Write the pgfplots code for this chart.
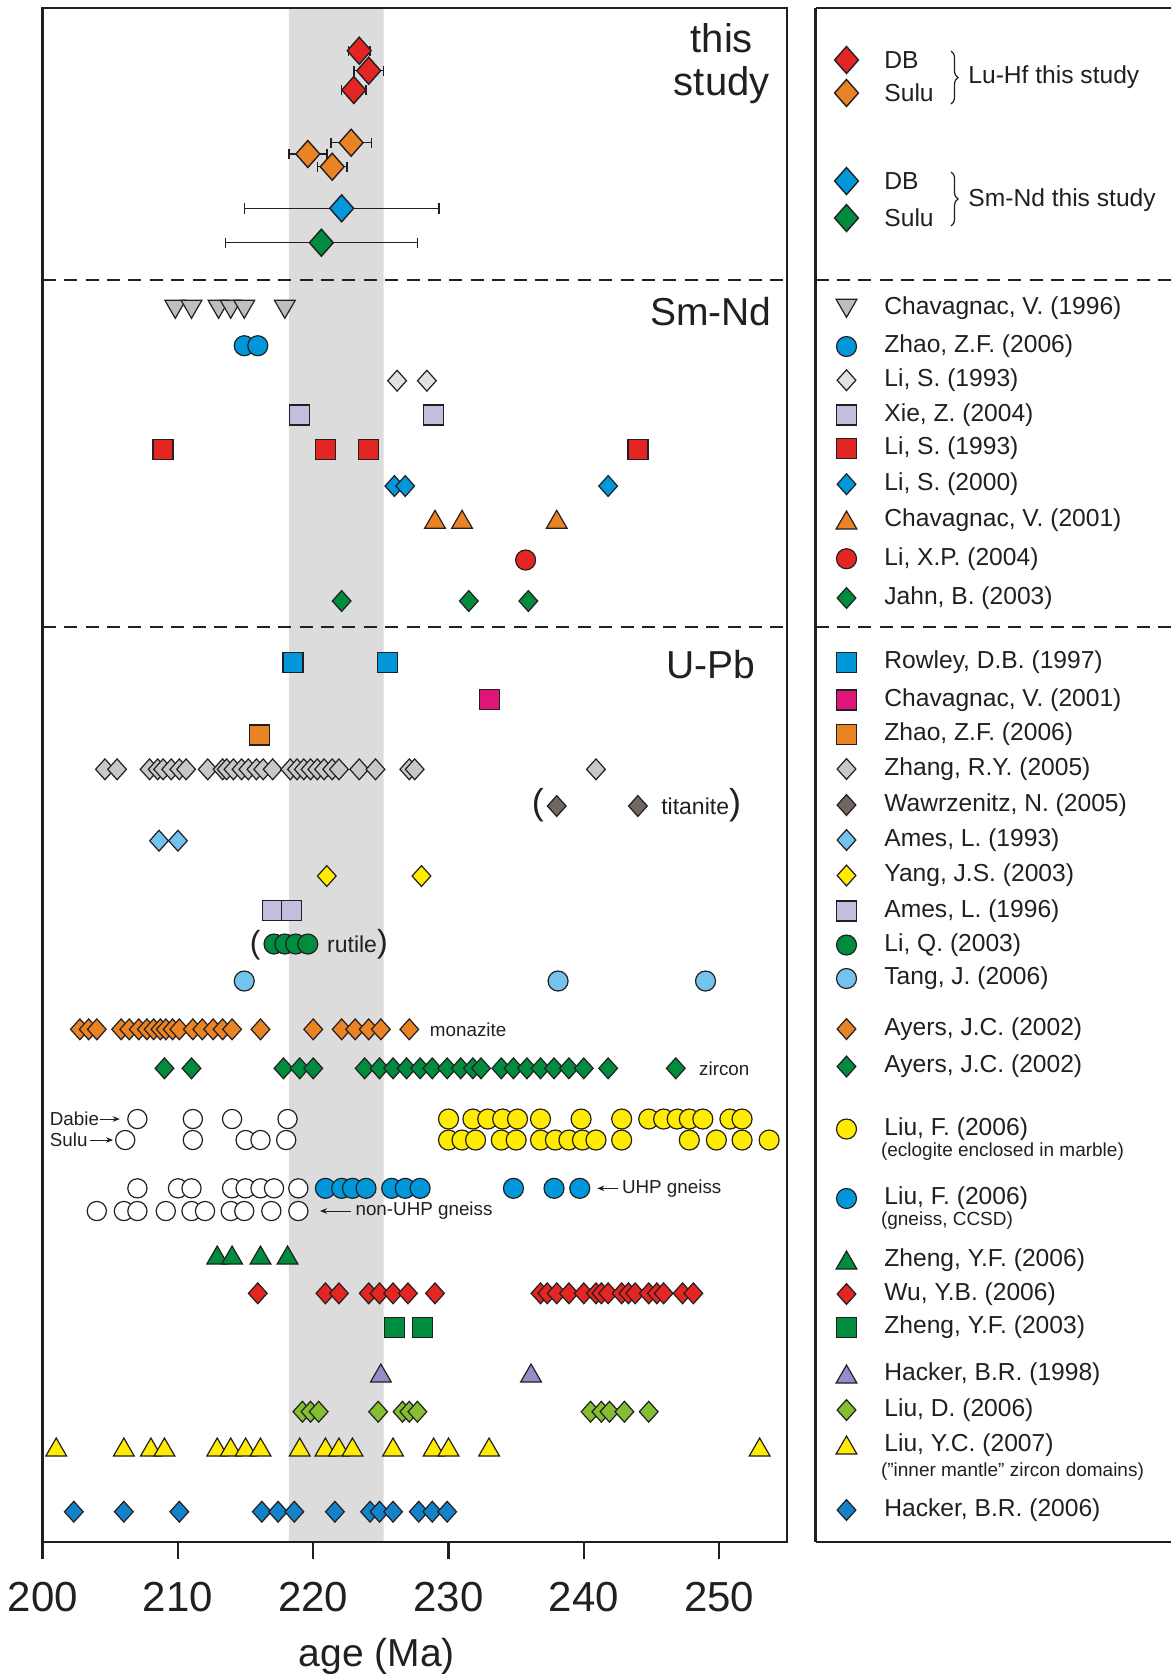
\documentclass[border=0pt]{standalone}
\usepackage{fontspec}
\setmainfont{Liberation Sans}
\usepackage{pgfplots}
\pgfplotsset{compat=1.18}
\usetikzlibrary{arrows.meta,decorations.pathreplacing}
\definecolor{outl}{RGB}{35,31,32}
\definecolor{band}{RGB}{220,220,220}
\definecolor{cRed}{RGB}{227,38,35}
\definecolor{cOrange}{RGB}{234,131,36}
\definecolor{cBlue}{RGB}{0,152,218}
\definecolor{cGreen}{RGB}{0,140,62}
\definecolor{cGrayTri}{RGB}{190,190,190}
\definecolor{cLtGray}{RGB}{226,226,226}
\definecolor{cZhang}{RGB}{200,200,200}
\definecolor{cLav}{RGB}{195,190,222}
\definecolor{cMag}{RGB}{222,22,122}
\definecolor{cBrown}{RGB}{112,102,98}
\definecolor{cLtBlue}{RGB}{115,195,238}
\definecolor{cYellow}{RGB}{255,236,0}
\definecolor{cPurple}{RGB}{152,140,200}
\definecolor{cLtGreen}{RGB}{132,190,50}
\definecolor{cHacker}{RGB}{20,130,200}
\newcommand{\fs}[1]{\fontsize{#1}{#1}\selectfont}
\pgfplotsset{
 dm/.style={only marks, mark=diamond*, mark size=5.2pt, mark options={xscale=1.2, fill=#1, draw=outl, line width=0.6pt}},
 bdm/.style={only marks, mark=diamond*, mark size=6.75pt, mark options={xscale=1.18, fill=#1, draw=outl, line width=0.7pt}},
 sq/.style={only marks, mark=square*, mark size=5pt, mark options={fill=#1, draw=outl, line width=0.6pt}},
 ci/.style={only marks, mark=*, mark size=5pt, mark options={fill=#1, draw=outl, line width=0.6pt}},
 oci/.style={only marks, mark=*, mark size=4.8pt, mark options={fill=white, draw=outl, line width=0.6pt}},
 tr/.style={only marks, mark=triangle*, mark size=6pt, mark options={fill=#1, draw=outl, line width=0.6pt}},
 itr/.style={only marks, mark=triangle*, mark size=6pt, mark options={rotate=180, fill=#1, draw=outl, line width=0.6pt}},
 dline/.style={draw=outl, line width=0.9pt, dash pattern=on 6.5pt off 4.2pt, forget plot},
}
\tikzset{txt/.style={inner sep=0pt, text=outl}}
\begin{document}
\begin{tikzpicture}
\useasboundingbox (0,0) rectangle (585.5pt,-837pt);
% ---------------- main axis ----------------
\begin{axis}[
  at={(21.35pt,-4pt)}, anchor=north west,
  scale only axis, width=372pt, height=767pt,
  xmin=200, xmax=255, ymin=8, ymax=1542, y dir=reverse,
  xtick={200,210,220,230,240,250}, ytick=\empty, xtick pos=left,
  tick align=outside, major tick length=8.5pt,
  xtick style={line width=1.2pt, outl},
  axis line style={line width=1.2pt, outl},
  xticklabel style={font=\fs{21}, anchor=base, inner sep=0pt, yshift=-26pt, text=outl},
  /pgf/number format/assume math mode=true,
  xlabel={age (Ma)},
  xlabel style={at={(axis cs:224.7,1666)}, anchor=base, inner sep=0pt, font=\fs{19.5}, text=outl},
  clip=false, axis on top,
]
\addplot[fill=band, draw=none, forget plot] coordinates {(218.2,8) (225.2,8) (225.2,1542) (218.2,1542) (218.2,8)};
\addplot[dline] coordinates {(200,279.7) (255,279.7)};
\addplot[dline] coordinates {(200,626.6) (255,626.6)};
% ---- this study ----
\addplot[draw=none, forget plot, error bars/.cd, x dir=both, x explicit,
  error bar style={draw=outl, line width=0.75pt, solid},
  error mark options={rotate=90, draw=outl, line width=0.75pt, mark size=2.6pt, solid}]
 coordinates {(223.4,50.7) +- (0.8,0) (224.1,70.7) +- (1.1,0) (223.0,90) +- (0.9,0)
  (222.8,142.7) +- (1.5,0) (219.6,154) +- (1.4,0) (221.4,166.7) +- (1.1,0)
  (222.1,208.3) +- (7.2,0) (220.6,242.7) +- (7.1,0)};
\addplot[bdm=cRed] coordinates {(223.4,50.7) (224.1,70.7) (223.0,90)};
\addplot[bdm=cOrange] coordinates {(222.8,142.7) (219.6,154) (221.4,166.7)};
\addplot[bdm=cBlue] coordinates {(222.1,208.3)};
\addplot[bdm=cGreen] coordinates {(220.6,242.7)};
% ---- Sm-Nd ----
\addplot[itr=cGrayTri] coordinates {(209.8,306.3) (211.0,306.3) (213.0,306.3) (213.9,306.3) (214.9,306.3) (217.9,306.3)};
\addplot[ci=cBlue] coordinates {(214.9,345.7) (215.9,345.7)};
\addplot[dm=cLtGray] coordinates {(226.2,380.7) (228.4,380.7)};
\addplot[sq=cLav] coordinates {(219.0,415) (228.9,415)};
\addplot[sq=cRed] coordinates {(208.9,449.3) (220.9,449.3) (224.1,449.3) (244.0,449.3)};
\addplot[dm=cBlue] coordinates {(226.0,486) (226.8,486) (241.8,486)};
\addplot[tr=cOrange] coordinates {(229.0,522.3) (231.0,522.3) (238.0,522.3)};
\addplot[ci=cRed] coordinates {(235.7,560)};
\addplot[dm=cGreen] coordinates {(222.1,601) (231.5,601) (235.9,601)};
% ---- U-Pb ----
\addplot[sq=cBlue] coordinates {(218.5,662.7) (225.5,662.7)};
\addplot[sq=cMag] coordinates {(233.0,699.3)};
\addplot[sq=cOrange] coordinates {(216.0,735)};
\addplot[dm=cZhang] coordinates {(204.6,769.3) (205.5,769.3) (207.9,769.3) (208.5,769.3) (208.9,769.3) (209.5,769.3) (210.1,769.3) (210.6,769.3) (212.2,769.3) (213.3,769.3) (213.6,769.3) (214.1,769.3) (214.7,769.3) (215.2,769.3) (215.8,769.3) (216.3,769.3) (217.0,769.3) (218.3,769.3) (218.8,769.3) (219.3,769.3) (219.8,769.3) (220.3,769.3) (220.8,769.3) (221.4,769.3) (221.9,769.3) (223.4,769.3) (224.6,769.3) (227.1,769.3) (227.5,769.3) (240.9,769.3)};
\addplot[dm=cBrown] coordinates {(238.0,806) (244.0,806)};
\addplot[dm=cLtBlue] coordinates {(208.6,840.7) (210.0,840.7)};
\addplot[dm=cYellow] coordinates {(221.0,876) (228.0,876)};
\addplot[sq=cLav] coordinates {(217.0,910.7) (218.4,910.7)};
\addplot[ci=cGreen] coordinates {(217.1,944) (217.9,944) (218.7,944) (219.6,944)};
\addplot[ci=cLtBlue] coordinates {(214.9,981) (238.1,981) (249.0,981)};
\addplot[dm=cOrange] coordinates {(202.75,1029.3) (203.4,1029.3) (204.0,1029.3) (205.8,1029.3) (206.4,1029.3) (207.1,1029.3) (207.7,1029.3) (208.2,1029.3) (208.7,1029.3) (209.1,1029.3) (209.6,1029.3) (210.1,1029.3) (211.1,1029.3) (211.8,1029.3) (212.6,1029.3) (213.3,1029.3) (214.0,1029.3) (216.1,1029.3) (220.0,1029.3) (222.1,1029.3) (223.1,1029.3) (224.1,1029.3) (225.0,1029.3) (227.1,1029.3)};
\addplot[dm=cGreen] coordinates {(209.0,1068.3) (211.0,1068.3) (217.8,1068.3) (219.0,1068.3) (220.0,1068.3) (223.8,1068.3) (224.9,1068.3) (225.9,1068.3) (226.9,1068.3) (227.9,1068.3) (228.8,1068.3) (229.9,1068.3) (230.9,1068.3) (231.8,1068.3) (232.4,1068.3) (233.9,1068.3) (234.8,1068.3) (235.8,1068.3) (236.8,1068.3) (237.8,1068.3) (238.9,1068.3) (240.0,1068.3) (241.8,1068.3) (246.8,1068.3)};
\addplot[oci] coordinates {(207.0,1119) (211.1,1119) (214.0,1119) (218.1,1119)};
\addplot[oci] coordinates {(206.1,1140) (211.1,1140) (215.0,1140) (216.1,1140) (218.0,1140)};
\addplot[ci=cYellow] coordinates {(230.0,1119) (231.8,1119) (232.9,1119) (234.0,1119) (235.1,1119) (236.8,1119) (239.8,1119) (242.8,1119) (244.8,1119) (245.9,1119) (246.9,1119) (247.8,1119) (248.8,1119) (250.8,1119) (251.7,1119)};
\addplot[ci=cYellow] coordinates {(230.0,1140) (231.0,1140) (232.0,1140) (233.9,1140) (235.0,1140) (236.8,1140) (237.9,1140) (238.9,1140) (239.9,1140) (240.9,1140) (242.8,1140) (247.8,1140) (249.8,1140) (251.7,1140) (253.7,1140)};
\addplot[oci] coordinates {(207.0,1188.3) (210.0,1188.3) (211.0,1188.3) (214.0,1188.3) (215.0,1188.3) (216.1,1188.3) (217.1,1188.3) (218.9,1188.3)};
\addplot[ci=cBlue] coordinates {(220.9,1188.3) (222.1,1188.3) (222.9,1188.3) (223.9,1188.3) (225.8,1188.3) (226.8,1188.3) (227.9,1188.3) (234.8,1188.3) (237.8,1188.3) (239.7,1188.3)};
\addplot[oci] coordinates {(204.0,1211) (206.0,1211) (207.0,1211) (209.1,1211) (211.0,1211) (212.0,1211) (213.9,1211) (214.9,1211) (216.9,1211) (218.9,1211)};
\addplot[tr=cGreen] coordinates {(212.9,1258) (214.0,1258) (216.1,1258) (218.1,1258)};
\addplot[dm=cRed] coordinates {(215.9,1293.3) (220.9,1293.3) (221.9,1293.3) (224.1,1293.3) (224.9,1293.3) (225.9,1293.3) (227.0,1293.3) (229.0,1293.3) (236.8,1293.3) (237.3,1293.3) (238.0,1293.3) (238.9,1293.3) (240.0,1293.3) (240.9,1293.3) (241.3,1293.3) (241.8,1293.3) (242.8,1293.3) (243.3,1293.3) (243.8,1293.3) (244.8,1293.3) (245.4,1293.3) (245.9,1293.3) (247.3,1293.3) (248.1,1293.3)};
\addplot[sq=cGreen] coordinates {(226.0,1327.3) (228.1,1327.3)};
\addplot[tr=cPurple] coordinates {(225.0,1376) (236.1,1376)};
\addplot[dm=cLtGreen] coordinates {(219.2,1411.7) (219.8,1411.7) (220.4,1411.7) (224.8,1411.7) (226.6,1411.7) (227.1,1411.7) (227.7,1411.7) (240.5,1411.7) (241.3,1411.7) (241.9,1411.7) (243.0,1411.7) (244.8,1411.7)};
\addplot[tr=cYellow] coordinates {(201.0,1450) (206.0,1450) (208.0,1450) (209.0,1450) (212.9,1450) (213.9,1450) (215.0,1450) (216.1,1450) (219.0,1450) (220.9,1450) (221.9,1450) (222.9,1450) (225.9,1450) (228.9,1450) (230.0,1450) (233.0,1450) (253.0,1450)};
\addplot[dm=cHacker] coordinates {(202.3,1511.7) (206.0,1511.7) (210.1,1511.7) (216.2,1511.7) (217.4,1511.7) (218.6,1511.7) (221.6,1511.7) (224.2,1511.7) (224.9,1511.7) (225.9,1511.7) (227.8,1511.7) (228.8,1511.7) (229.9,1511.7)};
% ---- annotations ----
\node[txt, anchor=base, font=\fs{20}] at (axis cs:250.2,52.5) {this};
\node[txt, anchor=base, font=\fs{20}] at (axis cs:250.2,95.5) {study};
\node[txt, anchor=base east, font=\fs{19.5}] at (axis cs:253.9,325) {Sm-Nd};
\node[txt, anchor=base east, font=\fs{19.5}] at (axis cs:252.7,678) {U-Pb};
\node[txt, anchor=base, font=\fs{18}] at (axis cs:236.6,814) {(};
\node[txt, anchor=base west, font=\fs{11.5}] at (axis cs:245.7,814) {titanite{\fs{18})}};
\node[txt, anchor=base, font=\fs{16}] at (axis cs:215.7,953) {(};
\node[txt, anchor=base west, font=\fs{11.5}] at (axis cs:221.0,952) {rutile{\fs{16})}};
\node[txt, anchor=west, font=\fs{9.4}] at (axis cs:228.6,1029.3) {monazite};
\node[txt, anchor=west, font=\fs{9.4}] at (axis cs:248.5,1068.3) {zircon};
\node[txt, anchor=west, font=\fs{9.4}] at (axis cs:200.5,1119) {Dabie};
\node[txt, anchor=west, font=\fs{9.4}] at (axis cs:200.5,1140) {Sulu};
\draw[outl, line width=0.5pt, -{Stealth[length=3.5pt,width=2.8pt]}] (axis cs:204.2,1119) -- (axis cs:205.7,1119);
\draw[outl, line width=0.5pt, -{Stealth[length=3.5pt,width=2.8pt]}] (axis cs:203.5,1140) -- (axis cs:205.2,1140);
\draw[outl, line width=0.5pt, -{Stealth[length=3.5pt,width=2.8pt]}] (axis cs:242.5,1188.3) -- (axis cs:241.0,1188.3);
\node[txt, anchor=west, font=\fs{9.4}] at (axis cs:242.8,1188.3) {UHP gneiss};
\draw[outl, line width=0.5pt, -{Stealth[length=3.5pt,width=2.8pt]}] (axis cs:222.8,1211) -- (axis cs:220.5,1211);
\node[txt, anchor=west, font=\fs{9.4}] at (axis cs:223.1,1211) {non-UHP gneiss};
\end{axis}
% ---------------- legend axis ----------------
\begin{axis}[
  at={(407.75pt,-4pt)}, anchor=north west,
  scale only axis, width=177.75pt, height=767pt,
  xmin=815.5, xmax=1171, ymin=8, ymax=1542, y dir=reverse,
  axis x line*=box, axis y line*=left,
  xtick=\empty, ytick=\empty,
  axis line style={line width=1.2pt, outl},
  clip=false,
]
\addplot[dline] coordinates {(815.5,279.7) (1171,279.7)};
\addplot[dline] coordinates {(815.5,626.6) (1171,626.6)};
\addplot[bdm=cRed] coordinates {(846.5,60)};
\addplot[bdm=cOrange] coordinates {(846.5,93)};
\addplot[bdm=cBlue] coordinates {(846.5,181)};
\addplot[bdm=cGreen] coordinates {(846.5,218)};
\addplot[itr=cGrayTri] coordinates {(846.5,305.3)};
\addplot[ci=cBlue] coordinates {(846.5,346.5)};
\addplot[dm=cLtGray] coordinates {(846.5,380.2)};
\addplot[sq=cLav] coordinates {(846.5,415)};
\addplot[sq=cRed] coordinates {(846.5,448.6)};
\addplot[dm=cBlue] coordinates {(846.5,484.2)};
\addplot[tr=cOrange] coordinates {(846.5,523)};
\addplot[ci=cRed] coordinates {(846.5,558.7)};
\addplot[dm=cGreen] coordinates {(846.5,598)};
\addplot[sq=cBlue] coordinates {(846.5,662.3)};
\addplot[sq=cMag] coordinates {(846.5,700)};
\addplot[sq=cOrange] coordinates {(846.5,734.3)};
\addplot[dm=cZhang] coordinates {(846.5,769)};
\addplot[dm=cBrown] coordinates {(846.5,805)};
\addplot[dm=cLtBlue] coordinates {(846.5,840)};
\addplot[dm=cYellow] coordinates {(846.5,875.5)};
\addplot[sq=cLav] coordinates {(846.5,911)};
\addplot[ci=cGreen] coordinates {(846.5,945)};
\addplot[ci=cLtBlue] coordinates {(846.5,978.5)};
\addplot[dm=cOrange] coordinates {(846.5,1029)};
\addplot[dm=cGreen] coordinates {(846.5,1066.5)};
\addplot[ci=cYellow] coordinates {(846.5,1129)};
\addplot[ci=cBlue] coordinates {(846.5,1198.5)};
\addplot[tr=cGreen] coordinates {(846.5,1263)};
\addplot[dm=cRed] coordinates {(846.5,1294)};
\addplot[sq=cGreen] coordinates {(846.5,1327.5)};
\addplot[tr=cPurple] coordinates {(846.5,1377)};
\addplot[dm=cLtGreen] coordinates {(846.5,1410)};
\addplot[tr=cYellow] coordinates {(846.5,1448)};
\addplot[dm=cHacker] coordinates {(846.5,1510)};
\tikzset{lt/.style={txt, anchor=west, font=\fs{12.3}}, st/.style={txt, anchor=west, font=\fs{9.5}}}
\node[lt] at (axis cs:884,60) {DB};
\node[lt] at (axis cs:884,93) {Sulu};
\node[lt] at (axis cs:968,76.7) {Lu-Hf this study};
\node[lt] at (axis cs:884,181) {DB};
\node[lt] at (axis cs:884,218) {Sulu};
\node[lt] at (axis cs:968,200) {Sm-Nd this study};
\draw[outl, line width=0.6pt, decorate, decoration={brace, amplitude=3.5pt}] (axis cs:951,51) -- (axis cs:951,104);
\draw[outl, line width=0.6pt, decorate, decoration={brace, amplitude=3.5pt}] (axis cs:951,172) -- (axis cs:951,226);
\node[lt] at (axis cs:884,308.3) {Chavagnac, V. (1996)};
\node[lt] at (axis cs:884,346.5) {Zhao, Z.F. (2006)};
\node[lt] at (axis cs:884,380.2) {Li, S. (1993)};
\node[lt] at (axis cs:884,415) {Xie, Z. (2004)};
\node[lt] at (axis cs:884,448.6) {Li, S. (1993)};
\node[lt] at (axis cs:884,484.2) {Li, S. (2000)};
\node[lt] at (axis cs:884,520) {Chavagnac, V. (2001)};
\node[lt] at (axis cs:884,558.7) {Li, X.P. (2004)};
\node[lt] at (axis cs:884,598) {Jahn, B. (2003)};
\node[lt] at (axis cs:884,662.3) {Rowley, D.B. (1997)};
\node[lt] at (axis cs:884,700) {Chavagnac, V. (2001)};
\node[lt] at (axis cs:884,734.3) {Zhao, Z.F. (2006)};
\node[lt] at (axis cs:884,769) {Zhang, R.Y. (2005)};
\node[lt] at (axis cs:884,805) {Wawrzenitz, N. (2005)};
\node[lt] at (axis cs:884,840) {Ames, L. (1993)};
\node[lt] at (axis cs:884,875.5) {Yang, J.S. (2003)};
\node[lt] at (axis cs:884,911) {Ames, L. (1996)};
\node[lt] at (axis cs:884,945) {Li, Q. (2003)};
\node[lt] at (axis cs:884,978.5) {Tang, J. (2006)};
\node[lt] at (axis cs:884,1029) {Ayers, J.C. (2002)};
\node[lt] at (axis cs:884,1066.5) {Ayers, J.C. (2002)};
\node[lt] at (axis cs:884,1129) {Liu, F. (2006)};
\node[st] at (axis cs:880.6,1151.5) {(eclogite enclosed in marble)};
\node[lt] at (axis cs:884,1198.5) {Liu, F. (2006)};
\node[st] at (axis cs:880.6,1220.5) {(gneiss, CCSD)};
\node[lt] at (axis cs:884,1260) {Zheng, Y.F. (2006)};
\node[lt] at (axis cs:884,1294) {Wu, Y.B. (2006)};
\node[lt] at (axis cs:884,1327.5) {Zheng, Y.F. (2003)};
\node[lt] at (axis cs:884,1374) {Hacker, B.R. (1998)};
\node[lt] at (axis cs:884,1410) {Liu, D. (2006)};
\node[lt] at (axis cs:884,1445) {Liu, Y.C. (2007)};
\node[st] at (axis cs:880.6,1471.5) {(”inner mantle” zircon domains)};
\node[lt] at (axis cs:884,1510) {Hacker, B.R. (2006)};
\end{axis}
\end{tikzpicture}
\end{document}
